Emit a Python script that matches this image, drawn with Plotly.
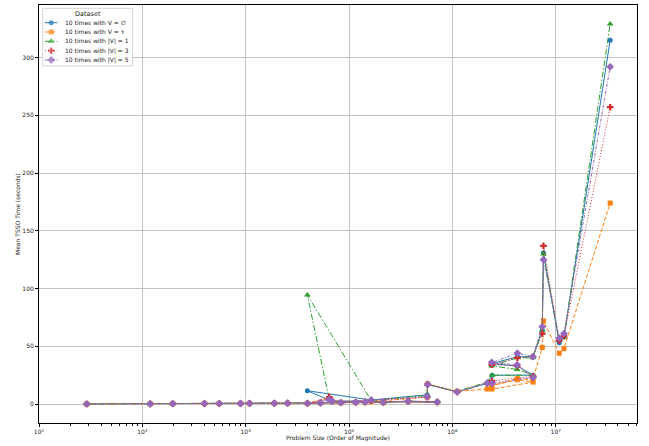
import plotly.graph_objects as go

# Problem sizes in dataset order (not sorted)
sizes = [290, 1190, 1970, 3990, 5540, 8910, 10900, 18900, 25400, 52900,
         83400, 116000, 143000, 214000, 373000, 713000, 68700, 64300, 39500, 164000,
         570000, 575000, 1.11e6, 2.17e6, 2.42e6, 6.04e6, 4.23e6, 2.40e6, 4.25e6, 6.0e6,
         7.4e6, 7.6e6, 1.08e7, 1.2e7, 3.36e7]

v_empty = [0.1, 0.2, 0.3, 0.4, 0.4, 0.5, 0.6, 0.7, 0.8, 1.0,
           1.2, 1.5, 1.8, 1.5, 2.5, 1.8, 2.5, 3.5, 11.5, 3.5,
           8.0, 17.0, 10.5, 18.0, 25.0, 25.0, 33.0, 35.0, 41.0, 41.0,
           64.0, 131.0, 53.0, 58.0, 315.0]
v_tau = [0.1, 0.2, 0.3, 0.4, 0.4, 0.5, 0.6, 0.7, 0.8, 1.0,
         1.1, 1.4, 1.6, 1.4, 2.3, 1.6, 2.3, 5.0, 0.6, 2.0,
         6.0, 17.5, 11.0, 13.0, 13.0, 19.0, 21.0, 16.0, 22.0, 21.0,
         49.0, 72.0, 44.0, 48.0, 174.0]
v_one = [0.1, 0.2, 0.3, 0.4, 0.4, 0.5, 0.6, 0.7, 0.8, 1.0,
         1.2, 1.5, 1.8, 1.5, 2.5, 1.8, 2.5, 4.0, 94.5, 3.0,
         7.5, 17.0, 11.0, 19.0, 25.0, 25.0, 30.0, 33.0, 40.0, 40.0,
         64.0, 130.0, 55.0, 58.0, 329.0]
v_three = [0.1, 0.2, 0.3, 0.4, 0.4, 0.5, 0.6, 0.7, 0.8, 1.0,
           1.2, 1.5, 1.8, 1.5, 2.5, 1.8, 2.5, 6.0, 0.6, 3.0,
           6.0, 17.0, 10.5, 18.0, 20.0, 24.0, 33.0, 34.0, 40.0, 41.0,
           61.0, 137.0, 55.0, 59.0, 257.0]
v_five = [0.1, 0.2, 0.3, 0.4, 0.4, 0.5, 0.6, 0.7, 0.8, 1.0,
          1.2, 1.5, 1.8, 1.5, 2.5, 1.8, 2.5, 4.0, 0.6, 3.5,
          6.5, 17.0, 10.5, 18.0, 18.0, 23.0, 34.0, 36.0, 44.0, 41.0,
          67.0, 125.0, 57.0, 61.0, 292.0]

series_names = ["10 times with V = \u2205", "10 times with V = \u03c4",
                "10 times with |V| = 1", "10 times with |V| = 3",
                "10 times with |V| = 5"]
series_values = [v_empty, v_tau, v_one, v_three, v_five]
legend_title = "Dataset"
x_title = "Problem Size (Order of Magnitude)"
y_title = "Mean TSSO Time (seconds)"

x_tick_vals = [1e2, 1e3, 1e4, 1e5, 1e6, 1e7]
x_tick_text = ["10<sup>2</sup>", "10<sup>3</sup>", "10<sup>4</sup>",
               "10<sup>5</sup>", "10<sup>6</sup>", "10<sup>7</sup>"]
y_tick_vals = [0, 50, 100, 150, 200, 250, 300]

colors = ["#1f77b4", "#ff7f0e", "#2ca02c", "#d62728", "#9467bd"]
symbols = ["circle", "square", "triangle-up", "cross", "diamond"]
dashes = ["solid", "4px,2px", "6px,2px,1.5px,2px", "1px,2px", "3px,1.5px,1px,1.5px"]
msizes = [5, 5, 6, 5.5, 6]

W, H = 649, 446
L, R, T, B = 39, 637, 5, 423  # plot area in pixels


def fx(px):
    return (px - L) / (R - L)


def fy(py):
    return (B - py) / (B - T)


fig = go.Figure()
for name, vals, c, s, d, ms in zip(series_names, series_values, colors, symbols, dashes, msizes):
    fig.add_trace(go.Scatter(
        x=sizes, y=vals, name=name, mode="lines+markers",
        line=dict(color=c, width=1, dash=d),
        marker=dict(color=c, symbol=s, size=ms, line=dict(width=0)),
        showlegend=False,
    ))

# ---- compact legend (matplotlib-like) on an overlay axis ----
bx0, bx1, by0, by1 = fx(42.7), fx(132.7), fy(66), fy(8.3)
fig.add_trace(go.Scatter(
    x=[bx0, bx1, bx1, bx0, bx0], y=[by0, by0, by1, by1, by0],
    xaxis="x2", yaxis="y2", mode="lines", fill="toself",
    fillcolor="rgba(255,255,255,0.85)", line=dict(color="#d5d5d5", width=1),
    hoverinfo="skip", showlegend=False,
))
entry_y = [22.7, 32.0, 41.3, 50.7, 60.0]
annotations = []
for name, c, s, d, ms, ey in zip(series_names, colors, symbols, dashes, msizes, entry_y):
    fig.add_trace(go.Scatter(
        x=[fx(45), fx(51.2), fx(57.4)], y=[fy(ey)] * 3,
        xaxis="x2", yaxis="y2", mode="lines+markers",
        line=dict(color=c, width=1, dash=d),
        marker=dict(color=c, symbol=s, size=[0, ms, 0], line=dict(width=0)),
        hoverinfo="skip", showlegend=False,
    ))
    annotations.append(dict(x=63, y=ey, text=name,
                            showarrow=False, xanchor="left", yanchor="middle",
                            font=dict(size=6, color="#222")))
annotations.append(dict(x=87.7, y=13.6, text=legend_title, showarrow=False,
                        xanchor="center", yanchor="middle", font=dict(size=6.5, color="#222")))
annotations.append(dict(x=338, y=438, text=x_title, showarrow=False,
                        xanchor="center", yanchor="middle", font=dict(size=6, color="#222")))
annotations.append(dict(x=17, y=214, text=y_title, showarrow=False, textangle=-90,
                        xanchor="center", yanchor="middle", font=dict(size=6, color="#222")))
for a in annotations:
    a["xref"] = "paper"
    a["yref"] = "paper"
    a["x"] = fx(a["x"])
    a["y"] = fy(a["y"])

minor_vals = [m * 10 ** k for k in range(2, 8) for m in range(2, 10)]

fig.update_layout(
    width=W, height=H,
    margin=dict(l=L, r=W - R, t=T, b=H - B, autoexpand=False),
    paper_bgcolor="white", plot_bgcolor="white",
    font=dict(family="DejaVu Sans", size=6, color="#222"),
    showlegend=False,
    annotations=annotations,
    xaxis=dict(
        type="log", range=[2, 7.786], automargin=False,
        tickvals=x_tick_vals, ticktext=x_tick_text,
        ticks="outside", ticklen=3, tickcolor="black",
        showgrid=True, gridcolor="#c4c4c4", gridwidth=1.2,
        showline=True, linecolor="black", linewidth=1, mirror=True,
        zeroline=False,
        minor=dict(tickvals=minor_vals, ticks="outside", ticklen=1.5, tickcolor="black", showgrid=False),
    ),
    yaxis=dict(
        range=[-16.4, 345.5], automargin=False,
        tickvals=y_tick_vals,
        ticks="outside", ticklen=3, tickcolor="black",
        showgrid=True, gridcolor="#c4c4c4", gridwidth=1.2,
        showline=True, linecolor="black", linewidth=1, mirror=True,
        zeroline=False,
    ),
    xaxis2=dict(overlaying="x", range=[0, 1], visible=False, fixedrange=True),
    yaxis2=dict(overlaying="y", range=[0, 1], visible=False, fixedrange=True),
)

fig.write_html("out.html", config={"displayModeBar": False},
               post_script="document.body.style.margin='0';")
